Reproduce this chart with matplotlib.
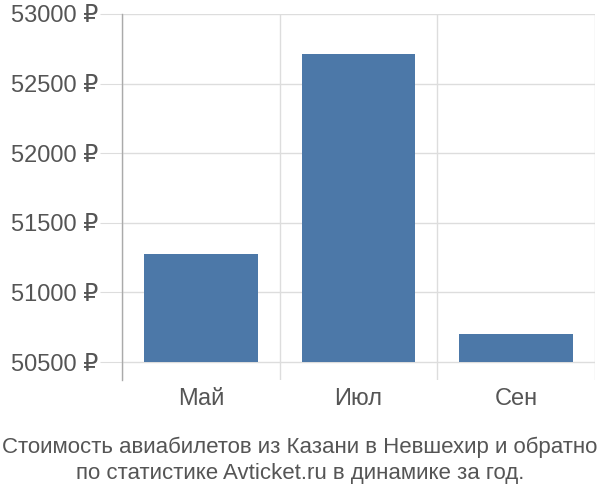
import matplotlib.pyplot as plt
import numpy as np

months = ["Май", "Июл", "Сен"]
prices = [51275, 52712, 50700]
tick_values = [50500, 51000, 51500, 52000, 52500, 53000]
title_lines = ["Стоимость авиабилетов из Казани в Невшехир и обратно",
               "по статистике Avticket.ru в динамике за год."]

plt.rcParams["font.family"] = ["Liberation Sans", "DejaVu Sans"]

fig = plt.figure(figsize=(6, 5), dpi=100)
ax = fig.add_axes([122 / 600, 1 - 380 / 500, (595 - 122) / 600, (380 - 14) / 500])

x = np.arange(len(months))
base = tick_values[0]
ax.bar(x, [p - base for p in prices], bottom=base, width=0.72,
       color="#4c78a8", zorder=3)

ax.set_xlim(-0.5, len(months) - 0.5)
ax.set_ylim(50371, 53000)

ax.set_yticks(tick_values)
ax.set_yticklabels([f"{v} ₽" for v in tick_values])
ax.set_xticks(x)
ax.set_xticklabels(months)
ax.set_xticks(np.arange(len(months) + 1) - 0.5, minor=True)

ax.tick_params(axis="y", length=16, color="#dddddd", labelsize=17,
               labelcolor="#555555", pad=1)
ax.tick_params(axis="x", which="major", length=0, labelsize=17,
               labelcolor="#555555", pad=6)
ax.tick_params(axis="x", which="minor", length=0)

ax.grid(axis="y", color="#dddddd", linewidth=1, zorder=0)
ax.grid(axis="x", which="minor", color="#dddddd", linewidth=1, zorder=0)

for side in ["top", "right", "bottom"]:
    ax.spines[side].set_visible(False)
ax.spines["left"].set_color("#aaaaaa")
ax.spines["left"].set_linewidth(1)

fig.text(0.5, 1 - 447 / 500, title_lines[0], ha="center", va="center",
         fontsize=16, color="#555555")
fig.text(0.5, 1 - 473 / 500, title_lines[1], ha="center", va="center",
         fontsize=16, color="#555555")

fig.savefig("out.png", dpi=100)
